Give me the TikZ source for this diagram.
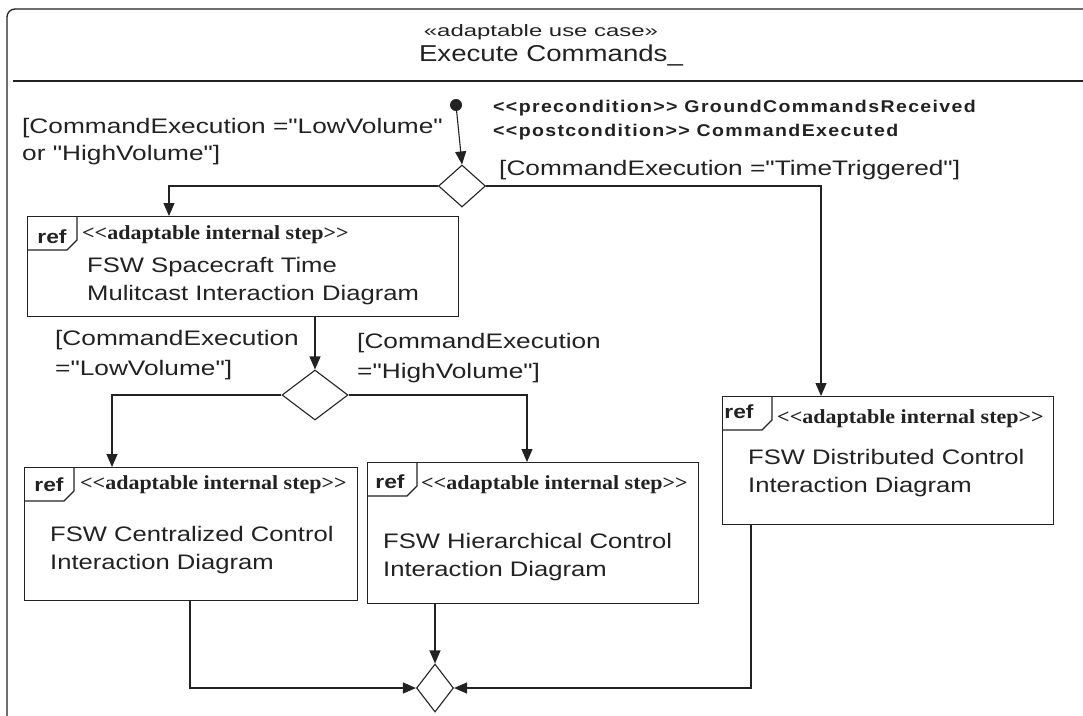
\documentclass[tikz,border=0pt]{standalone}
\usepackage{fontspec}
\setmainfont{Liberation Sans}
\usetikzlibrary{arrows.meta,shapes.geometric}
\newfontfamily\guardfont[FakeStretch=1.25]{Liberation Sans}
\newfontfamily\bodyfont[FakeStretch=1.22]{Liberation Sans}
\newfontfamily\reffont[FakeStretch=1.2]{Liberation Sans}
\newfontfamily\stereofont[FakeStretch=1.1]{Liberation Serif}
\newfontfamily\condfont[FakeStretch=1.15,LetterSpace=8]{Liberation Sans}
\newfontfamily\titlefont[FakeStretch=1.2]{Liberation Sans}
\newfontfamily\usecasefont[FakeStretch=1.45]{Liberation Sans}
\definecolor{ink}{HTML}{222222}

\begin{document}
\begin{tikzpicture}[x=1pt,y=-1pt,
  line/.style={draw=ink, line width=1.1pt},
  flow/.style={line, -{Triangle[length=13pt,width=11pt]}},
  stepbox/.style={draw=ink, line width=1.3pt, fill=white, rectangle, inner sep=0pt, anchor=north west},
  decision/.style={draw=ink, line width=1.1pt, fill=white, diamond, inner sep=0pt},
  txt/.style={inner sep=0pt, text=ink, anchor=west},
  guard/.style={txt, align=left, font=\guardfont\fontsize{21}{27}\selectfont},
  body/.style={txt, align=left, font=\bodyfont\fontsize{21}{28}\selectfont},
  stereo/.style={txt, font=\stereofont\bfseries\fontsize{20}{22}\selectfont},
  reftext/.style={inner sep=0pt, text=ink, font=\reffont\bfseries\fontsize{19}{22}\selectfont},
  tag/.style={draw=ink, line width=1.1pt}
]
\useasboundingbox (0,0) rectangle (1083,715);
\clip (0,0) rectangle (1083,715);
\fill[white] (0,0) rectangle (1083,715);

% outer use case frame and its title compartment
\draw[draw=ink, line width=1.3pt, rounded corners=8pt] (7,740) -- (7,9) -- (1120,9);
\draw[draw=ink, line width=1.3pt] (13,81) -- (1120,81);
\node[inner sep=0pt, text=ink, font=\usecasefont\fontsize{16.5}{19}\selectfont] (stype) at (541,32) {«adaptable use case»};
\node[inner sep=0pt, text=ink, font=\titlefont\fontsize{23}{26}\selectfont] (title) at (551,55) {Execute Commands\_};

% initial node and decisions
\node[circle, fill=ink, inner sep=0pt, minimum size=12pt] (start) at (456,105) {};
\node[decision, minimum width=47pt, minimum height=42pt] (d1) at (462,186) {};
\node[decision, minimum width=66pt, minimum height=50pt] (d2) at (315,395) {};
\node[decision, minimum width=37pt, minimum height=48pt] (d3) at (435,688) {};

% interaction-use steps
\node[stepbox, minimum width=431pt, minimum height=100pt] (b1) at (27,216) {};
\node[stepbox, minimum width=333pt, minimum height=133pt] (b2) at (24,467) {};
\node[stepbox, minimum width=331pt, minimum height=141pt] (b3) at (367,462) {};
\node[stepbox, minimum width=331pt, minimum height=128pt] (b4) at (722,396) {};

% "ref" pentagon tags
\foreach \b in {b1,b2,b3,b4}{
  \draw[tag] ([xshift=50pt]\b.north west) -- ++(0,24) -- ++(-10,10) -- ([yshift=-34pt]\b.north west);
}

% step texts
\node[reftext] (r1) at (52,237) {ref};
\node[stereo] (s1) at (82,235) {<<adaptable internal step>>};
\node[body] (t1) at (87,281.5) {FSW Spacecraft Time\\Mulitcast Interaction Diagram};

\node[reftext] (r2) at (49,485) {ref};
\node[stereo] (s2) at (80,485) {<<adaptable internal step>>};
\node[body] (t2) at (50,550) {FSW Centralized Control\\Interaction Diagram};

\node[reftext] (r3) at (390,482) {ref};
\node[stereo] (s3) at (421,485) {<<adaptable internal step>>};
\node[body] (t3) at (383,557) {FSW Hierarchical Control\\Interaction Diagram};

\node[reftext] (r4) at (739,412) {ref};
\node[stereo] (s4) at (777,419) {<<adaptable internal step>>};
\node[body] (t4) at (748,473) {FSW Distributed Control\\Interaction Diagram};

% conditions and guards
\node[txt, align=left, font=\condfont\bfseries\fontsize{17}{24}\selectfont] (cond) at (493,120)
  {<<precondition>> GroundCommandsReceived\\<<postcondition>> CommandExecuted};
\node[guard] (g1) at (22,141.5) {[CommandExecution ="LowVolume"\\or "HighVolume"]};
\node[guard] (g2) at (499,170) {[CommandExecution ="TimeTriggered"]};
\node[guard, font=\guardfont\fontsize{21}{30}\selectfont] (g3) at (55,355) {[CommandExecution\\="LowVolume"]};
\node[guard, font=\guardfont\fontsize{21}{30}\selectfont] (g4) at (357,358) {[CommandExecution\\="HighVolume"]};

% control flows
\draw[flow] (start) -- (d1.north);
\draw[flow] (d1.west) -| (b1.north -| 169,0);
\draw[flow] (d1.east) -| (b4.north -| 821,0);
\draw[flow] (b1.south -| d2.north) -- (d2.north);
\draw[flow] (d2.west) -| (b2.north -| 112,0);
\draw[flow] (d2.east) -| (b3.north -| 527,0);
\draw[flow] (b3.south -| d3.north) -- (d3.north);
\draw[flow] (b2.south -| 190,0) |- (d3.west);
\draw[flow] (b4.south -| 751,0) |- (d3.east);
\end{tikzpicture}
\end{document}
